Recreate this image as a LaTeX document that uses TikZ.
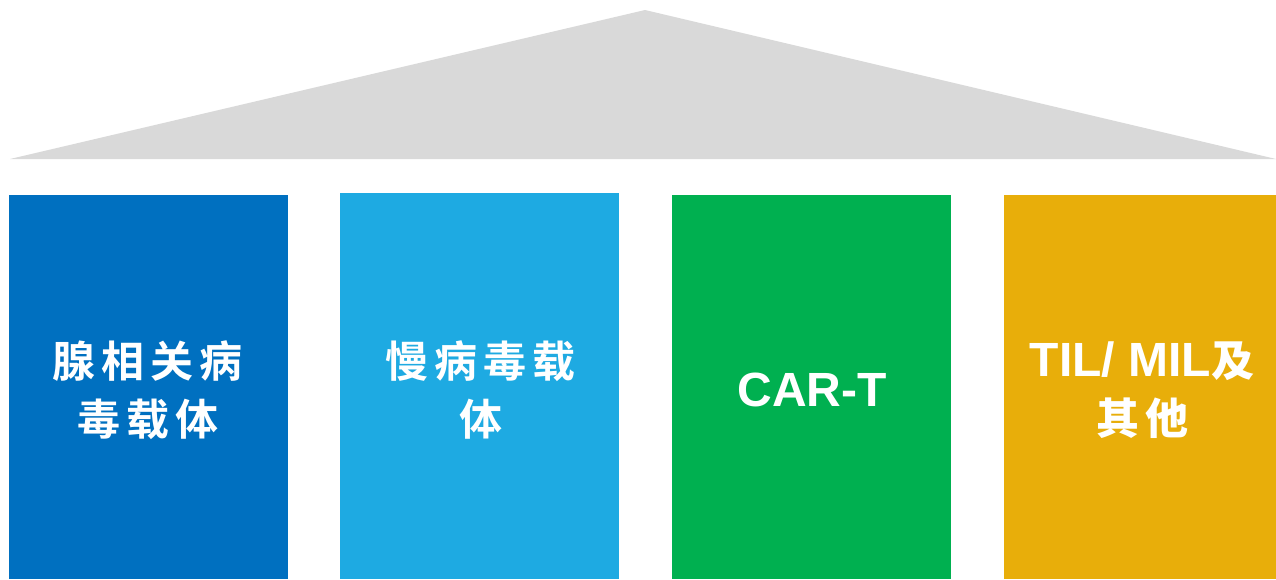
\documentclass[tikz,border=0pt]{standalone}
\usepackage{fontspec}
\setmainfont{Liberation Sans}
\newfontfamily\cjk[LetterSpace=14]{Noto Sans CJK SC Bold}
\definecolor{roof}{HTML}{D9D9D9}
\definecolor{cA}{HTML}{0070C0}
\definecolor{cB}{HTML}{1EAAE2}
\definecolor{cC}{HTML}{00B050}
\definecolor{cD}{HTML}{E8AE0A}
\begin{document}
\begin{tikzpicture}[x=1pt,y=-1pt,
  pillar/.style={draw=none,inner sep=0pt,outer sep=0pt},
  lbl/.style={text=white,align=center,inner sep=0pt,font=\bfseries\fontsize{48}{58}\selectfont}]
\useasboundingbox (0,0) rectangle (1276,579);
\fill[roof] (645,10) -- (1276,159) -- (10,159) -- cycle;
\fill[cA,pillar] (9,195) rectangle (288,579);
\fill[cB,pillar] (340,193) rectangle (619,579);
\fill[cC,pillar] (672,195) rectangle (951,579);
\fill[cD,pillar] (1004,195) rectangle (1276,579);
\node[lbl,font={\cjk\fontsize{43}{58}\selectfont}] (t1) at (148,390) {腺相关病\\毒载体};
\node[lbl,font={\cjk\fontsize{43}{58}\selectfont}] (t2) at (481,390) {慢病毒载\\体};
\node[lbl] (t3) at (812,390) {CAR-T};
\node[lbl] (t4) at (1142,390) {TIL/ MIL{\cjk\fontsize{43}{58}\selectfont 及}\\{\cjk\fontsize{43}{58}\selectfont 其他}};
\end{tikzpicture}
\end{document}
